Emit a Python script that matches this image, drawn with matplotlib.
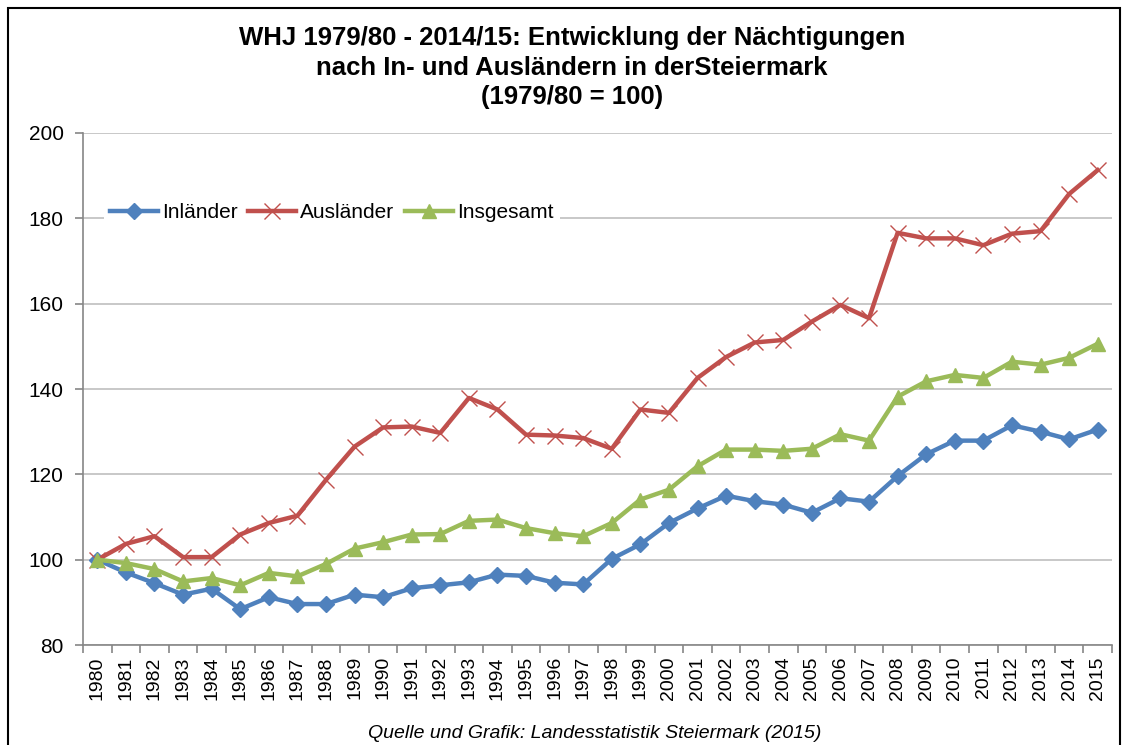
import matplotlib
matplotlib.use("Agg")
import matplotlib.pyplot as plt
from matplotlib.patches import Rectangle
from matplotlib.ticker import MultipleLocator

plt.rcParams['font.family'] = ['Liberation Sans', 'DejaVu Sans']

# Werte (1979/80 = 100)
jahre = [str(j) for j in range(1980, 2016)]
inlaender = [100, 97.0, 94.5, 91.8, 93.2, 88.4, 91.2, 89.6, 89.6, 91.8,
             91.2, 93.3, 94.0, 94.7, 96.5, 96.2, 94.6, 94.2, 100.2, 103.6,
             108.6, 112.0, 115.0, 113.7, 112.9, 111.0, 114.4, 113.6, 119.6, 124.7,
             127.9, 127.9, 131.5, 130.0, 128.2, 130.5]
auslaender = [100, 103.7, 105.5, 100.6, 100.6, 105.9, 108.6, 110.3, 118.7, 126.5,
              131.0, 131.2, 129.7, 137.9, 135.2, 129.3, 129.1, 128.5, 126.0, 135.2,
              134.4, 142.6, 147.5, 150.9, 151.5, 155.8, 159.7, 156.6, 176.6, 175.3,
              175.3, 173.7, 176.4, 177.0, 185.7, 191.3]
insgesamt = [100, 99.2, 97.8, 94.9, 95.7, 94.0, 96.9, 96.1, 99.0, 102.6,
             104.1, 105.9, 106.0, 109.1, 109.4, 107.4, 106.2, 105.5, 108.6, 114.1,
             116.4, 121.9, 125.8, 125.8, 125.5, 126.0, 129.4, 127.9, 138.2, 141.8,
             143.3, 142.6, 146.4, 145.7, 147.3, 150.6]

fig = plt.figure(figsize=(11.28, 7.45), dpi=100)
ax = fig.add_axes([0.0736, 0.1342, 0.9122, 0.6873])

x = list(range(len(jahre)))
ax.plot(x, inlaender, color='#4F81BD', lw=3.2, marker='D', ms=8,
        label='Inländer', zorder=3)
ax.plot(x, auslaender, color='#C0504D', lw=3.2, marker='x', ms=11, mew=1.0,
        label='Ausländer', zorder=3)
ax.plot(x, insgesamt, color='#9BBB59', lw=3.2, marker='^', ms=10,
        label='Insgesamt', zorder=3)

ax.set_ylim(80, 200)
ax.set_xlim(-0.5, len(jahre) - 0.5)
ax.yaxis.set_major_locator(MultipleLocator(20))
ax.grid(axis='y', color='#BFBFBF', lw=1.2)
ax.set_axisbelow(True)

ax.set_xticks(x)
ax.set_xticklabels(jahre, rotation=90, fontsize=14)
ax.set_xticks([i - 0.5 for i in range(len(jahre) + 1)], minor=True)
ax.tick_params(axis='x', which='major', length=0, pad=8)
ax.tick_params(axis='x', which='minor', length=6, color='#868686', width=1.2)
ax.tick_params(axis='y', length=6, color='#868686', width=1.2, labelsize=15, pad=8)

for s in ['top', 'right']:
    ax.spines[s].set_visible(False)
for s in ['left', 'bottom']:
    ax.spines[s].set_color('#868686')
    ax.spines[s].set_linewidth(1.2)

leg = ax.legend(loc='upper left', bbox_to_anchor=(0.01, 0.895), ncol=3,
                frameon=True, fontsize=15, handlelength=2.3,
                handletextpad=0.2, columnspacing=0.5, borderpad=0.3)
leg.get_frame().set_edgecolor('none')
leg.get_frame().set_facecolor('white')
leg.get_frame().set_alpha(1)

fig.text(0.507, 0.965, 'WHJ 1979/80 - 2014/15: Entwicklung der Nächtigungen\n'
         'nach In- und Ausländern in derSteiermark\n(1979/80 = 100)',
         ha='center', va='top', fontsize=18.5, fontweight='bold', linespacing=1.3)

fig.text(0.527, 0.004, 'Quelle und Grafik: Landesstatistik Steiermark (2015)',
         ha='center', va='bottom', fontsize=14, style='italic')

fig.patches.append(Rectangle((0.007, -0.01), 0.986, 0.999, transform=fig.transFigure,
                             fill=False, edgecolor='black', lw=1.5))

fig.savefig('out.png', dpi=100, facecolor='white')
